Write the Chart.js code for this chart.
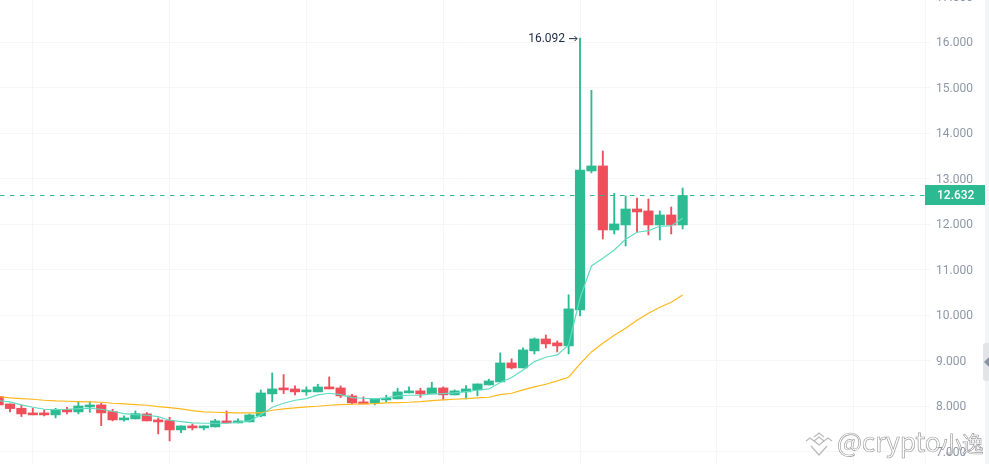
<!DOCTYPE html>
<html lang="en">
    <head>
        <meta charset="UTF-8" />
        <title>Candlestick chart</title>
        <script src="https://cdn.jsdelivr.net/npm/chart.js"></script>
        <style>
            html, body { margin: 0; padding: 0; background: #fff; overflow: hidden; width: 989px; height: 464px; }
            #chart { position: absolute; left: 0; top: -20px; }
            #strip { position: absolute; left: 985px; top: 0; width: 4px; height: 464px; background: #f4f5f7; }
            #handle { position: absolute; left: 983px; top: 343px; width: 6px; height: 38px; background: #e3e4e6; border-radius: 3px 0 0 3px; }
            #handle i { position: absolute; left: 1px; top: 14px; border: 5px solid transparent; border-left-width: 0; border-right-color: #8a94a6; }
            #mark { position: absolute; left: 837px; top: 423px; font: 26.5px "Noto Sans CJK SC", "Open Sans", sans-serif; line-height: 36px;
                    color: rgba(255,255,255,0.55); -webkit-text-stroke: 0.7px rgba(130,130,130,0.75); white-space: nowrap; letter-spacing: -0.2px; }
            #mark span { font-size: 21.5px; }
            #icon { position: absolute; left: 805px; top: 431px; }
        </style>
    </head>
    <body>
        <canvas id="chart" width="989" height="504"></canvas>
        <div id="strip"></div>
        <div id="handle"><i></i></div>
        <svg id="icon" width="28" height="26" fill="none" stroke="#bbb" stroke-width="1.3">
            <polyline points="1,10 5,7 9,10 14,14 19,10 23,7 27,10" />
            <polyline points="9,6 14,2 19,6" />
            <polyline points="9,10 14,6 19,10" />
            <polyline points="6,15 14,24 22,15" />
        </svg>
        <div id="mark">@crypto<span>小逸</span></div>
        <script>
            const opens = [8.212, 8.050, 7.955, 7.853, 7.853, 7.809, 7.926, 7.875, 7.984, 8.028,
                7.882, 7.699, 7.721, 7.831, 7.699, 7.684, 7.479, 7.567, 7.523, 7.545,
                7.677, 7.633, 7.655, 7.787, 8.271, 8.402, 8.380, 8.315, 8.315, 8.424,
                8.402, 8.227, 8.095, 8.073, 8.139, 8.161, 8.293, 8.337, 8.271, 8.402,
                8.249, 8.315, 8.359, 8.468, 8.534, 8.952, 8.842, 9.216, 9.479, 9.392,
                9.326, 10.117, 13.172, 13.282, 11.875, 11.985, 12.336, 12.293, 11.985, 12.205,
                11.985];
            const closes = [8.028, 7.948, 7.831, 7.809, 7.809, 7.933, 7.875, 8.006, 8.028, 7.853,
                7.699, 7.743, 7.838, 7.677, 7.655, 7.479, 7.567, 7.523, 7.567, 7.677,
                7.633, 7.677, 7.809, 8.292, 8.380, 8.359, 8.315, 8.359, 8.424, 8.380,
                8.227, 8.073, 8.051, 8.161, 8.175, 8.315, 8.337, 8.271, 8.402, 8.249,
                8.337, 8.380, 8.490, 8.556, 8.952, 8.842, 9.238, 9.479, 9.370, 9.326,
                10.140, 13.194, 13.282, 11.875, 12.007, 12.336, 12.271, 11.985, 12.205, 11.985,
                12.632];
            const highs = [8.240, 8.050, 8.028, 7.955, 7.919, 7.955, 7.977, 8.102, 8.102, 8.065,
                7.933, 7.787, 7.897, 7.860, 7.743, 7.757, 7.567, 7.611, 7.567, 7.713,
                7.897, 7.721, 7.831, 8.358, 8.732, 8.696, 8.446, 8.424, 8.483, 8.644,
                8.446, 8.263, 8.205, 8.161, 8.241, 8.395, 8.424, 8.395, 8.527, 8.424,
                8.359, 8.454, 8.490, 8.593, 9.172, 9.040, 9.282, 9.501, 9.567, 9.435,
                10.450, 16.092, 14.944, 13.611, 12.681, 12.622, 12.578, 12.556, 12.293, 12.380,
                12.798];
            const lows = [8.028, 7.875, 7.772, 7.809, 7.787, 7.743, 7.831, 7.831, 7.867, 7.574,
                7.677, 7.669, 7.721, 7.677, 7.391, 7.237, 7.420, 7.479, 7.479, 7.545,
                7.633, 7.633, 7.655, 7.765, 8.095, 8.278, 8.249, 8.241, 8.315, 8.380,
                8.190, 8.051, 8.051, 8.029, 8.088, 8.161, 8.293, 8.197, 8.271, 8.139,
                8.249, 8.161, 8.227, 8.468, 8.534, 8.820, 8.842, 9.150, 9.282, 9.194,
                9.150, 9.985, 13.128, 11.677, 11.787, 11.523, 11.824, 11.765, 11.655, 11.787,
                11.897];
            const maFast = [8.124, 8.094, 8.028, 7.977, 7.933, 7.926, 7.933, 7.948, 7.955, 7.933,
                7.889, 7.838, 7.816, 7.801, 7.772, 7.691, 7.662, 7.633, 7.626, 7.626,
                7.626, 7.647, 7.677, 7.809, 7.978, 8.066, 8.131, 8.168, 8.249, 8.285,
                8.256, 8.190, 8.175, 8.161, 8.183, 8.227, 8.241, 8.241, 8.271, 8.278,
                8.293, 8.322, 8.351, 8.380, 8.520, 8.630, 8.798, 8.981, 9.076, 9.128,
                9.348, 10.373, 11.084, 11.252, 11.435, 11.670, 11.824, 11.860, 11.956, 11.963,
                12.131];
            const maSlow = [8.212, 8.182, 8.168, 8.153, 8.131, 8.116, 8.109, 8.102, 8.094, 8.087,
                8.065, 8.050, 8.036, 8.021, 7.992, 7.970, 7.941, 7.904, 7.875, 7.867,
                7.860, 7.853, 7.853, 7.853, 7.912, 7.941, 7.963, 7.985, 7.999, 8.021,
                8.036, 8.043, 8.051, 8.058, 8.073, 8.080, 8.087, 8.102, 8.124, 8.139,
                8.153, 8.168, 8.183, 8.197, 8.256, 8.285, 8.359, 8.424, 8.483, 8.556,
                8.637, 8.930, 9.194, 9.384, 9.560, 9.714, 9.890, 10.043, 10.175, 10.285,
                10.446];
            const priceTicks = [7, 8, 9, 10, 11, 12, 13, 14, 15, 16, 17];
            const timeTicks = [3, 15, 27, 39, 51, 63, 75];
            const lastPrice = 12.632;
            const highLabel = "16.092";
            const highIndex = 51;

            const GREEN = "#2cbb92";
            const RED = "#ef4e5b";
            const GRID = "#f6f6f7";

            const candleColors = opens.map((o, i) => (closes[i] >= o ? GREEN : RED));

            // price tag, dashed last price line and the arrow note on the top wick
            const overlays = {
                id: "overlays",
                afterDatasetsDraw(chart) {
                    const { ctx, chartArea, scales } = chart;
                    const y = scales.y.getPixelForValue(lastPrice);
                    ctx.save();
                    ctx.strokeStyle = GREEN;
                    ctx.lineWidth = 1;
                    ctx.setLineDash([4.5, 5.5]);
                    ctx.beginPath();
                    ctx.moveTo(chartArea.left, y);
                    ctx.lineTo(chartArea.right, y);
                    ctx.stroke();
                    ctx.setLineDash([]);

                    ctx.fillStyle = "#2dba92";
                    ctx.fillRect(chartArea.right, y - 10.5, 60, 20);
                    ctx.fillStyle = "#fff";
                    ctx.font = "500 12px Roboto";
                    ctx.textAlign = "left";
                    ctx.textBaseline = "middle";
                    ctx.fillText(lastPrice.toFixed(3), chartArea.right + 12, y);

                    const hx = scales.x.getPixelForValue(highIndex);
                    const hy = scales.y.getPixelForValue(highs[highIndex]);
                    ctx.fillStyle = "#1e2a44";
                    ctx.font = "12px Roboto";
                    ctx.textAlign = "right";
                    ctx.fillText(highLabel, hx - 15, hy + 0.5);
                    ctx.strokeStyle = "#1e2a44";
                    ctx.lineWidth = 1;
                    ctx.beginPath();
                    ctx.moveTo(hx - 11, hy + 0.5);
                    ctx.lineTo(hx - 3, hy + 0.5);
                    ctx.moveTo(hx - 5.5, hy - 2);
                    ctx.lineTo(hx - 3, hy + 0.5);
                    ctx.lineTo(hx - 5.5, hy + 3);
                    ctx.stroke();
                    ctx.restore();
                },
            };

            new Chart(document.getElementById("chart"), {
                type: "bar",
                data: {
                    datasets: [
                        {
                            type: "line",
                            data: maFast.map((v, i) => ({ x: i, y: v })),
                            borderColor: "#62dcc2",
                            borderWidth: 1.2,
                            pointRadius: 0,
                            tension: 0,
                            order: 1,
                        },
                        {
                            type: "line",
                            data: maSlow.map((v, i) => ({ x: i, y: v })),
                            borderColor: "#ffb81c",
                            borderWidth: 1.2,
                            pointRadius: 0,
                            tension: 0,
                            order: 2,
                        },
                        {
                            data: opens.map((o, i) => ({ x: i, y: [o, closes[i]] })),
                            backgroundColor: candleColors,
                            barThickness: 9.5,
                            grouped: false,
                            order: 3,
                        },
                        {
                            data: lows.map((l, i) => ({ x: i, y: [l, highs[i]] })),
                            backgroundColor: candleColors,
                            barThickness: 1.2,
                            grouped: false,
                            order: 4,
                        },
                    ],
                },
                options: {
                    responsive: false,
                    animation: false,
                    layout: { padding: 0 },
                    plugins: { legend: { display: false }, tooltip: { enabled: false } },
                    scales: {
                        x: {
                            type: "linear",
                            offset: false,
                            min: 0.123,
                            max: 81.26,
                            afterBuildTicks: (axis) => {
                                axis.ticks = timeTicks.map((v) => ({ value: v }));
                            },
                            ticks: { display: false },
                            grid: { color: GRID, tickLength: 0, offset: false },
                            border: { display: false },
                            afterFit: (axis) => {
                                axis.height = 0;
                                axis.paddingLeft = 0;
                                axis.paddingRight = 0;
                            },
                        },
                        y: {
                            position: "right",
                            min: 6.29,
                            max: 17.37,
                            afterBuildTicks: (axis) => {
                                axis.ticks = priceTicks.map((v) => ({ value: v }));
                            },
                            afterFit: (axis) => {
                                axis.width = 64;
                                axis.paddingTop = 0;
                                axis.paddingBottom = 0;
                            },
                            ticks: {
                                color: "#8d98a8",
                                font: { family: "Roboto", size: 12 },
                                padding: 6,
                                labelOffset: 1,
                                autoSkip: false,
                                callback: (v) => v.toFixed(3),
                            },
                            grid: { color: GRID, tickLength: 5 },
                            border: { color: GRID },
                        },
                    },
                },
                plugins: [overlays],
            });
        </script>
    </body>
</html>
